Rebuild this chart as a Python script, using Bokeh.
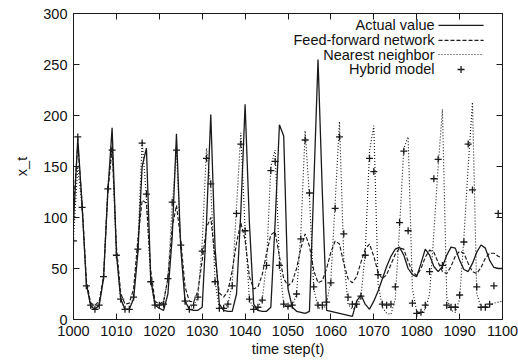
from bokeh.plotting import figure
from bokeh.models import Range1d, FixedTicker, LinearAxis, CustomLabelingPolicy
from bokeh.embed import file_html
from bokeh.resources import INLINE
from bokeh.core.properties import value

# ---------------- data ----------------
t_start = 1000
actual = [95, 178, 112, 35, 13, 10, 14, 40, 125, 188,
          65, 20, 10, 10, 20, 65, 150, 168, 40, 14,
          11, 9, 25, 80, 182, 70, 18, 10, 9, 9,
          12, 95, 201, 70, 15, 9, 8, 8, 25, 105,
          211, 95, 15, 9, 8, 8, 12, 95, 191, 180,
          30, 12, 8, 7, 6, 8, 130, 255, 125, 9,
          8, 7, 6, 5, 4, 3, 18, 24, 15, 10,
          18, 28, 40, 52, 62, 69, 71, 63, 50, 44,
          42, 55, 69, 63, 52, 47, 52, 63, 71, 70,
          58, 49, 47, 55, 66, 73, 70, 58, 51, 50,
          50]
feedforward = [110, 172, 115, 38, 16, 14, 18, 42, 125, 168,
               72, 26, 15, 16, 30, 78, 117, 114, 48, 18,
               15, 18, 40, 90, 112, 78, 32, 18, 17, 28,
               58, 90, 100, 60, 26, 22, 28, 48, 75, 95,
               78, 42, 30, 32, 44, 65, 83, 86, 62, 40,
               33, 37, 50, 70, 84, 72, 48, 36, 38, 50,
               66, 77, 74, 55, 40, 36, 42, 56, 69, 74,
               62, 46, 40, 44, 54, 64, 70, 69, 57, 47,
               43, 50, 61, 68, 66, 56, 47, 45, 52, 62,
               67, 65, 55, 47, 45, 51, 60, 65, 65, 62,
               60]
nearest = [80, 150, 110, 35, 14, 11, 15, 42, 130, 170,
           65, 20, 10, 10, 22, 72, 175, 120, 37, 14,
           14, 16, 40, 110, 165, 72, 18, 11, 14, 22,
           75, 168, 130, 37, 11, 11, 15, 35, 110, 183,
           88, 20, 10, 12, 20, 55, 150, 166, 55, 15,
           12, 13, 25, 85, 185, 120, 30, 12, 10, 15,
           40, 115, 194, 60, 15, 10, 12, 22, 65, 165,
           190, 35, 12, 6, 5, 20, 90, 168, 179, 30,
           8, 6, 10, 25, 85, 150, 206, 22, 9, 7,
           20, 80, 150, 213, 25, 12, 12, 14, 16, 17,
           18]
hybrid = [77, 179, 110, 33, 14, 10, 14, 42, 128, 166,
          63, 20, 10, 10, 22, 69, 173, 123, 37, 14,
          14, 15, 40, 115, 166, 73, 18, 10, 14, 22,
          67, 158, 133, 37, 11, 11, 15, 33, 104, 172,
          87, 20, 10, 12, 19, 53, 146, 155, 53, 15,
          13, 14, 25, 79, 176, 124, 32, 14, 14, 17,
          36, 109, 179, 84, 22, 15, 15, 23, 63, 158,
          145, 44, 15, 14, 15, 32, 95, 165, 87, 16,
          6, 7, 14, 47, 138, 157, 53, 14, 12, 12,
          24, 76, 172, 127, 32, 12, 12, 15, 33, 104]
series_names = ["Actual value", "Feed-forward network", "Nearest neighbor", "Hybrid model"]
x_ticks = [1000, 1010, 1020, 1030, 1040, 1050, 1060, 1070, 1080, 1090, 1100]
y_ticks = [0, 50, 100, 150, 200, 250, 300]

t_lines = list(range(t_start, t_start + len(actual)))
t_hyb = list(range(t_start, t_start + len(hybrid)))

# ---------------- figure ----------------
FONT = "Liberation Sans"
INK = "#1a1a1a"
x0, x1 = 1000, 1100
y0, y1 = 0, 300

p = figure(frame_width=429, frame_height=306,
           x_range=Range1d(x0, x1), y_range=Range1d(y0, y1),
           output_backend="svg", toolbar_location=None,
           min_border_left=73, min_border_right=8,
           min_border_top=13, min_border_bottom=37,
           x_axis_location=None, y_axis_location=None)
p.grid.visible = False
p.outline_line_color = INK
p.outline_line_width = 1
p.background_fill_color = "white"
p.border_fill_color = "white"

no_labels = CustomLabelingPolicy(code="return new Set()")


def style_axis(ax, labels=True):
    ax.axis_line_color = INK
    ax.major_tick_line_color = INK
    ax.major_tick_in = 6
    ax.major_tick_out = 0
    ax.minor_tick_line_color = None
    ax.major_label_text_font = FONT
    ax.major_label_text_font_size = "14.5px"
    ax.major_label_text_color = "#111111"
    ax.axis_label_text_font = FONT
    ax.axis_label_text_font_size = "14.5px"
    ax.axis_label_text_font_style = "normal"
    ax.axis_label_text_color = "#111111"
    if not labels:
        ax.major_label_policy = no_labels
        ax.major_label_standoff = 0


xb = LinearAxis(ticker=FixedTicker(ticks=x_ticks), axis_label="time step(t)")
style_axis(xb)
xb.major_label_standoff = 6
xb.axis_label_standoff = 2
yl = LinearAxis(ticker=FixedTicker(ticks=y_ticks), axis_label="x_t")
style_axis(yl)
yl.major_label_standoff = 6
yl.axis_label_standoff = 10
xt = LinearAxis(ticker=FixedTicker(ticks=x_ticks))
style_axis(xt, labels=False)
yr = LinearAxis(ticker=FixedTicker(ticks=y_ticks))
style_axis(yr, labels=False)
p.add_layout(xb, "below")
p.add_layout(yl, "left")
p.add_layout(xt, "above")
p.add_layout(yr, "right")

# ---------------- series ----------------
p.line(t_lines, actual, line_color=INK, line_width=1.3)
p.line(t_lines, feedforward, line_color=INK, line_width=1.15, line_dash="4 2")
p.line(t_lines, nearest, line_color=INK, line_width=1.15, line_dash="1 2")
p.scatter(t_hyb, hybrid, marker="cross", size=7, line_color=INK, line_width=1.3)

# ---------------- legend (gnuplot style: text right, sample on right) ----------------
dx = x1 - x0
dy = y1 - y0
lab_x = x0 + 0.8415 * dx
s0 = x0 + 0.8508 * dx
s1 = x0 + 0.956 * dx
rows = [y0 + f * dy for f in (0.961, 0.912, 0.866, 0.817)]
p.text(x=[lab_x] * 4, y=rows, text=series_names,
       text_font=value(FONT), text_font_size="14.5px", text_color="#111111",
       text_align="right", text_baseline="middle")
p.segment(x0=[s0], y0=[rows[0]], x1=[s1], y1=[rows[0]], line_color=INK, line_width=1.3)
p.segment(x0=[s0], y0=[rows[1]], x1=[s1], y1=[rows[1]], line_color=INK, line_width=1.15, line_dash="4 2")
p.segment(x0=[s0], y0=[rows[2]], x1=[s1], y1=[rows[2]], line_color=INK, line_width=1.15, line_dash="1 2")
p.scatter(x=[(s0 + s1) / 2], y=[rows[3]], marker="cross", size=7, line_color=INK, line_width=1.3)

open("out.html", "w").write(file_html(p, INLINE))
